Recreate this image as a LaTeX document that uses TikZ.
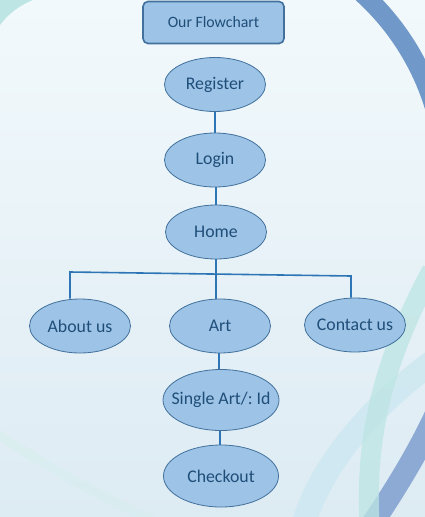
\documentclass[tikz,border=0pt]{standalone}
\usepackage{fontspec}
\setmainfont{Carlito}
\usetikzlibrary{shapes.geometric,positioning}
\definecolor{nodefill}{HTML}{9DC3E6}
\definecolor{nodeline}{HTML}{41719C}
\definecolor{linkblue}{HTML}{2E75B6}
\definecolor{textblue}{HTML}{1F4E79}
\definecolor{bgtop}{HTML}{F2F9FC}
\definecolor{bgbottom}{HTML}{DDEBF3}
\definecolor{arcteal}{HTML}{BDE5E3}
\definecolor{arclight}{HTML}{CDE8F1}
\definecolor{arcblue}{HTML}{7098C8}
\definecolor{arcsoft}{HTML}{8DAAD5}
\frenchspacing

\begin{document}
\begin{tikzpicture}[x=1pt, y=-1pt,
    page/.style={fill=nodefill, draw=nodeline, text=textblue},
    titlebox/.style={page, rectangle, rounded corners=5pt, line width=1.6pt,
        minimum width=141pt, minimum height=42pt, font=\fontsize{15.8}{18}\selectfont},
    stepnode/.style={page, ellipse, line width=0.8pt, inner xsep=-12pt, inner ysep=0pt,
        minimum width=101pt, minimum height=54pt, font=\fontsize{17.8}{20}\selectfont},
    link/.style={linkblue, line width=1.6pt}]
    % background
    \shade[top color=bgtop, bottom color=bgbottom] (0,0) rectangle (425,517);
    \useasboundingbox (0,0) rectangle (425,517);
    \begin{scope}
        \clip (0,0) rectangle (425,517);
        \fill[arcteal] (0,0) -- (0,25) .. controls (8,14) and (20,5) .. (33,0) -- cycle;
        \draw[arcteal!60, line width=9pt, opacity=0.6] (-5,432) .. controls (50,470) and (110,500) .. (160,525);
        \begin{scope}
            \clip (300,0) rectangle (425,150);
            \draw[arcblue, line width=19pt] (193,180) circle (252);
        \end{scope}
        \draw[arclight, line width=24pt, opacity=0.85] (435,360) .. controls (380,400) and (320,460) .. (302,530);
        \draw[arcsoft, line width=22pt] (440,405) .. controls (420,450) and (395,490) .. (368,530);
        \draw[arcteal, line width=20pt, opacity=0.75] (432,270) .. controls (395,340) and (362,420) .. (370,530);
    \end{scope}
    % nodes
    \node[titlebox] (title) at (213.5,22.5) {Our Flowchart};
    \node[stepnode] (register) at (215,84.5) {Register};
    \node[stepnode] (login) at (215,160) {Login};
    \node[stepnode] (home) at (216,232) {Home};
    \node[stepnode] (about) at (80,326) {About us};
    \node[stepnode] (art) at (220,326) {Art};
    \node[stepnode] (contact) at (355,325) {Contact us};
    \node[stepnode, minimum width=116pt, minimum height=61pt] (single) at (221,400) {Single Art/: Id};
    \node[stepnode, minimum width=115pt, minimum height=62pt] (checkout) at (221,476) {Checkout};
    \coordinate (bus) at (216,273);
    % links
    \draw[link] (register) -- (login);
    \draw[link] (login.south -| home) -- (home);
    \draw[link] (home.south) -- (bus) -- (bus |- art.north);
    \draw[link] (about.north -| 70,0) -- (70,272) -- (351,276) -- (contact.north -| 351,0);
    \draw[link] (art.south -| 219,0) -- (single.north -| 219,0);
    \draw[link] (single.south -| 220,0) -- (checkout.north -| 220,0);
\end{tikzpicture}
\end{document}
